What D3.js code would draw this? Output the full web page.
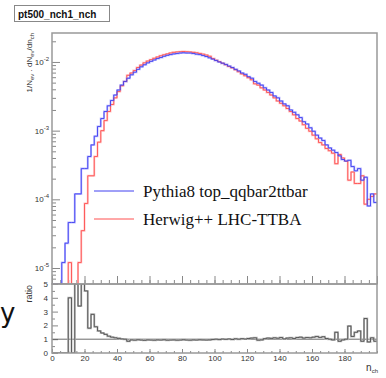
<!DOCTYPE html>
<html>
<head>
<meta charset="utf-8">
<script src="https://cdn.jsdelivr.net/npm/d3@7"></script>
<style>
  body { margin: 0; background: #fff; }
  svg { display: block; }
  text { font-family: "Liberation Sans", Arial, sans-serif; }
</style>
</head>
<body>
<div id="chart"></div>
<script>
// bins of width 2 in n_ch, from 0 to 200
var binEdges = d3.range(0, 202, 2);

// Pythia8 top_qqbar2ttbar (blue)
var pythia = [
  0, 0, 0, 1.2e-5, 2.3e-5, 4.6e-5, 4.6e-5, 1.2e-4, 1.2e-4, 2.8e-4,
  2.8e-4, 4.2e-4, 6.2e-4, 8.3e-4, 1.15e-3, 1.5e-3, 1.9e-3, 2.3e-3, 2.75e-3, 3.3e-3,
  3.9e-3, 4.6e-3, 5.2e-3, 5.8e-3, 6.5e-3, 7.1e-3, 7.8e-3, 8.5e-3, 9.1e-3, 9.7e-3,
  1.02e-2, 1.07e-2, 1.12e-2, 1.16e-2, 1.21e-2, 1.25e-2, 1.28e-2, 1.31e-2, 1.33e-2, 1.35e-2,
  1.36e-2, 1.35e-2, 1.35e-2, 1.33e-2, 1.30e-2, 1.28e-2, 1.24e-2, 1.20e-2, 1.15e-2, 1.10e-2,
  1.05e-2, 1.00e-2, 9.6e-3, 9.2e-3, 8.7e-3, 8.3e-3, 7.8e-3, 7.4e-3, 6.9e-3, 6.6e-3,
  6.1e-3, 5.8e-3, 5.2e-3, 4.9e-3, 4.6e-3, 4.2e-3, 3.9e-3, 3.6e-3, 3.2e-3, 3.0e-3,
  2.7e-3, 2.45e-3, 2.3e-3, 2.0e-3, 1.85e-3, 1.7e-3, 1.55e-3, 1.35e-3, 1.25e-3, 1.1e-3,
  9.8e-4, 8.6e-4, 7.8e-4, 7.2e-4, 6.2e-4, 5.6e-4, 5.2e-4, 4.8e-4, 4.3e-4, 3.8e-4,
  3.6e-4, 3.7e-4, 3.0e-4, 2.6e-4, 2.8e-4, 1.9e-4, 2.1e-4, 8e-5, 1.2e-4, 9e-5
];

// Herwig++ LHC-TTBA (red)
var herwig = [
  0, 0, 0, 0, 0, 1.2e-5, 0, 0, 1.2e-5, 3.5e-5,
  8.7e-5, 2.2e-4, 2.2e-4, 4.2e-4, 6.8e-4, 1.0e-3, 1.4e-3, 1.9e-3, 2.4e-3, 3.0e-3,
  3.7e-3, 4.5e-3, 5.2e-3, 6.4e-3, 6.9e-3, 7.5e-3, 8.3e-3, 9.0e-3, 9.7e-3, 1.03e-2,
  1.08e-2, 1.13e-2, 1.18e-2, 1.23e-2, 1.27e-2, 1.31e-2, 1.35e-2, 1.38e-2, 1.40e-2, 1.41e-2,
  1.42e-2, 1.41e-2, 1.40e-2, 1.38e-2, 1.36e-2, 1.33e-2, 1.30e-2, 1.26e-2, 1.21e-2, 1.12e-2,
  1.06e-2, 1.01e-2, 9.6e-3, 9.1e-3, 8.6e-3, 8.2e-3, 7.7e-3, 7.2e-3, 6.7e-3, 6.3e-3,
  5.9e-3, 5.5e-3, 4.8e-3, 4.6e-3, 4.2e-3, 3.9e-3, 3.6e-3, 3.3e-3, 3.0e-3, 2.7e-3,
  2.5e-3, 2.3e-3, 2.1e-3, 1.9e-3, 1.7e-3, 1.5e-3, 1.38e-3, 1.22e-3, 1.08e-3, 9.8e-4,
  8.6e-4, 7.6e-4, 6.7e-4, 6.2e-4, 5.5e-4, 5.1e-4, 4.7e-4, 3.3e-4, 4.5e-4, 4.0e-4,
  3.6e-4, 1.9e-4, 2.5e-4, 1.7e-4, 1.7e-4, 2.2e-4, 8.5e-5, 1.0e-4, 1.1e-4, 1.2e-4
];

// ratio panel
var ratio = [
  0, 0, 0, 0, 0, 4, 0, 6, 3.4, 6,
  4.5, 1.8, 2.8, 1.9, 1.6, 1.45, 1.35, 1.22, 1.15, 1.1,
  1.06, 1.02, 1.0, 0.85, 0.95, 0.93, 0.96, 0.94, 0.92, 0.95,
  0.94, 0.93, 0.95, 0.94, 0.96, 0.93, 0.94, 0.95, 0.93, 0.94,
  0.96, 0.94, 0.93, 0.95, 0.94, 0.96, 0.95, 0.94, 0.95, 0.98,
  1.0, 0.97, 1.01, 0.99, 1.02, 0.98, 1.03, 1.0, 1.04, 1.01,
  1.05, 1.08, 1.1, 0.93, 0.95, 1.04, 1.08, 1.06, 1.1, 1.07,
  1.12, 1.02, 1.08, 1.1, 1.05, 1.12, 1.15, 1.08, 1.12, 1.1,
  1.15, 1.2, 1.13, 1.18, 1.05, 1.0, 0.95, 1.5, 0.85, 0.95,
  1.0, 1.95, 1.2, 1.5, 1.6, 0.85, 2.5, 0.8, 1.1, 0.85
];

var xTicks = [0, 20, 40, 60, 80, 100, 120, 140, 160, 180, 200];
var xTickLabels = [0, 20, 40, 60, 80, 100, 120, 140, 160, 180];
var logMajor = [1e-5, 1e-4, 1e-3, 1e-2];
var ratioTicks = [0, 1, 2, 3, 4, 5];
var legendNames = ["Pythia8 top_qqbar2ttbar", "Herwig++ LHC-TTBA"];

var svg = d3.select("#chart").append("svg")
    .attr("width", 386)
    .attr("height", 378);

svg.append("rect").attr("width", 386).attr("height", 378).attr("fill", "#fff");

var x = d3.scaleLinear().domain([0, 200]).range([52, 377]);
var y = d3.scaleLog().domain([5.85e-6, 0.0264]).range([284, 33]).clamp(true);
var yr = d3.scaleLinear().domain([0, 5]).range([353, 284]).clamp(true);

var defs = svg.append("defs");
defs.append("clipPath").attr("id", "clipTop")
  .append("rect").attr("x", 52).attr("y", 33).attr("width", 325).attr("height", 251);
defs.append("clipPath").attr("id", "clipRatio")
  .append("rect").attr("x", 52).attr("y", 284).attr("width", 325).attr("height", 69);

function stepPoints(vals) {
  var pts = vals.map(function(v, i) { return [binEdges[i], v]; });
  pts.push([binEdges[vals.length], vals[vals.length - 1]]);
  return pts;
}

var lineTop = d3.line()
    .x(d => x(d[0]))
    .y(d => y(Math.max(d[1], 1e-7)))
    .curve(d3.curveStepAfter);

var lineRatio = d3.line()
    .x(d => x(d[0]))
    .y(d => yr(d[1]))
    .curve(d3.curveStepAfter);

// log minor ticks
var logMinor = [];
[-6, -5, -4, -3, -2].forEach(function(e) {
  for (var m = 2; m <= 9; m++) {
    var v = m * Math.pow(10, e);
    if (v > 5.85e-6 && v < 0.0264) logMinor.push(v);
  }
});
var xMinor = d3.range(0, 201, 5);

function tickStyle(g) {
  g.select(".domain").remove();
  g.selectAll(".tick line").attr("stroke", "#888");
}

// top panel axes
svg.append("g").attr("transform", "translate(52,0)")
  .call(d3.axisLeft(y).tickValues(logMinor).tickSize(-4).tickFormat(""))
  .call(tickStyle);
svg.append("g").attr("transform", "translate(52,0)")
  .call(d3.axisLeft(y).tickValues(logMajor).tickSize(-8).tickFormat(""))
  .call(tickStyle);
svg.append("g").attr("transform", "translate(0,284)")
  .call(d3.axisBottom(x).tickValues(xMinor).tickSize(-4).tickFormat(""))
  .call(tickStyle);
svg.append("g").attr("transform", "translate(0,284)")
  .call(d3.axisBottom(x).tickValues(xTicks).tickSize(-8).tickFormat(""))
  .call(tickStyle);

// log labels
logMajor.forEach(function(v) {
  var t = svg.append("text")
    .attr("x", 49).attr("y", y(v) + 3)
    .attr("text-anchor", "end")
    .style("font-size", "8px").attr("fill", "#333");
  t.append("tspan").text("10");
  t.append("tspan").attr("dy", -4).style("font-size", "6px").text(Math.round(Math.log10(v)));
});

// histograms
var gTop = svg.append("g").attr("clip-path", "url(#clipTop)");
var series = [
  { vals: herwig, light: "#ffc4c4", dark: "#ff5050" },
  { vals: pythia, light: "#bcbcff", dark: "#4040f0" }
];
series.forEach(function(s) {
  gTop.append("path").attr("d", lineTop(stepPoints(s.vals)))
    .attr("fill", "none").attr("stroke", s.light).attr("stroke-width", 2);
});
series.forEach(function(s) {
  gTop.append("path").attr("d", lineTop(stepPoints(s.vals)))
    .attr("fill", "none").attr("stroke", s.dark).attr("stroke-width", 0.9);
});

// legend
var legColors = ["#4040f0", "#ff5050"];
legendNames.forEach(function(name, i) {
  var ly = 191 + i * 28;
  svg.append("line").attr("x1", 94).attr("x2", 134).attr("y1", ly).attr("y2", ly)
    .attr("stroke", legColors[i]).attr("stroke-width", 1);
  svg.append("text").attr("x", 143).attr("y", ly + 6)
    .style("font-family", "'Liberation Serif', 'Times New Roman', serif")
    .style("font-size", "17px").attr("fill", "#111")
    .text(name);
});

// frames
svg.append("rect").attr("x", 52).attr("y", 33).attr("width", 325).attr("height", 251)
  .attr("fill", "none").attr("stroke", "#999").attr("stroke-width", 1.5);

// ratio panel
svg.append("g").attr("transform", "translate(52,0)")
  .call(d3.axisLeft(yr).tickValues(d3.range(0.5, 5, 1)).tickSize(-3).tickFormat(""))
  .call(tickStyle);
svg.append("g").attr("transform", "translate(52,0)")
  .call(d3.axisLeft(yr).tickValues(ratioTicks).tickSize(-6).tickPadding(4).tickFormat(d3.format("d")))
  .call(tickStyle)
  .call(g => g.selectAll("text").style("font-size", "8px").attr("fill", "#333"));
svg.append("g").attr("transform", "translate(0,353)")
  .call(d3.axisBottom(x).tickValues(xMinor).tickSize(-2).tickFormat(""))
  .call(tickStyle);
svg.append("g").attr("transform", "translate(0,353)")
  .call(d3.axisBottom(x).tickValues(xTickLabels).tickSize(-4).tickPadding(2).tickFormat(d3.format("d")))
  .call(tickStyle)
  .call(g => g.selectAll("text").style("font-size", "8px").attr("fill", "#333"));

svg.append("line").attr("x1", 52).attr("x2", 377).attr("y1", yr(1)).attr("y2", yr(1))
  .attr("stroke", "#444").attr("stroke-width", 0.8);

var gRat = svg.append("g").attr("clip-path", "url(#clipRatio)");
gRat.append("path").attr("d", lineRatio(stepPoints(ratio)))
  .attr("fill", "none").attr("stroke", "#bbb").attr("stroke-width", 2);
gRat.append("path").attr("d", lineRatio(stepPoints(ratio)))
  .attr("fill", "none").attr("stroke", "#444").attr("stroke-width", 0.8);

svg.append("rect").attr("x", 52).attr("y", 284).attr("width", 325).attr("height", 69)
  .attr("fill", "none").attr("stroke", "#999").attr("stroke-width", 1.5);

// title box
svg.append("rect").attr("x", 14.5).attr("y", 5.5).attr("width", 95).attr("height", 16)
  .attr("fill", "#fff").attr("stroke", "#888").attr("stroke-width", 1);
svg.append("text").attr("x", 18).attr("y", 17.5)
  .style("font-size", "10px").style("font-weight", "bold").attr("fill", "#111")
  .text("pt500_nch1_nch");

// y axis label
var yl = svg.append("text")
  .attr("transform", "translate(32,33) rotate(-90)")
  .attr("text-anchor", "end")
  .style("font-size", "8px").attr("fill", "#333");
yl.append("tspan").text("1/N");
yl.append("tspan").attr("dy", 2).style("font-size", "6px").text("ev");
yl.append("tspan").attr("dy", -2).text(" . dN");
yl.append("tspan").attr("dy", 2).style("font-size", "6px").text("ev");
yl.append("tspan").attr("dy", -2).text("/dn");
yl.append("tspan").attr("dy", 2).style("font-size", "6px").text("ch");

svg.append("text")
  .attr("transform", "translate(32,285) rotate(-90)")
  .attr("text-anchor", "end")
  .style("font-size", "9px").attr("fill", "#333")
  .text("ratio");

// x axis label
var xl = svg.append("text").attr("x", 378).attr("y", 371)
  .attr("text-anchor", "end").style("font-size", "10px").attr("fill", "#333");
xl.append("tspan").text("n");
xl.append("tspan").attr("dy", 2).style("font-size", "6px").text("ch");

// big glyph on the left edge
svg.append("text").attr("x", 0).attr("y", 322)
  .style("font-family", "'DejaVu Sans', sans-serif")
  .style("font-size", "26px").attr("fill", "#111")
  .text("y");
</script>
</body>
</html>
